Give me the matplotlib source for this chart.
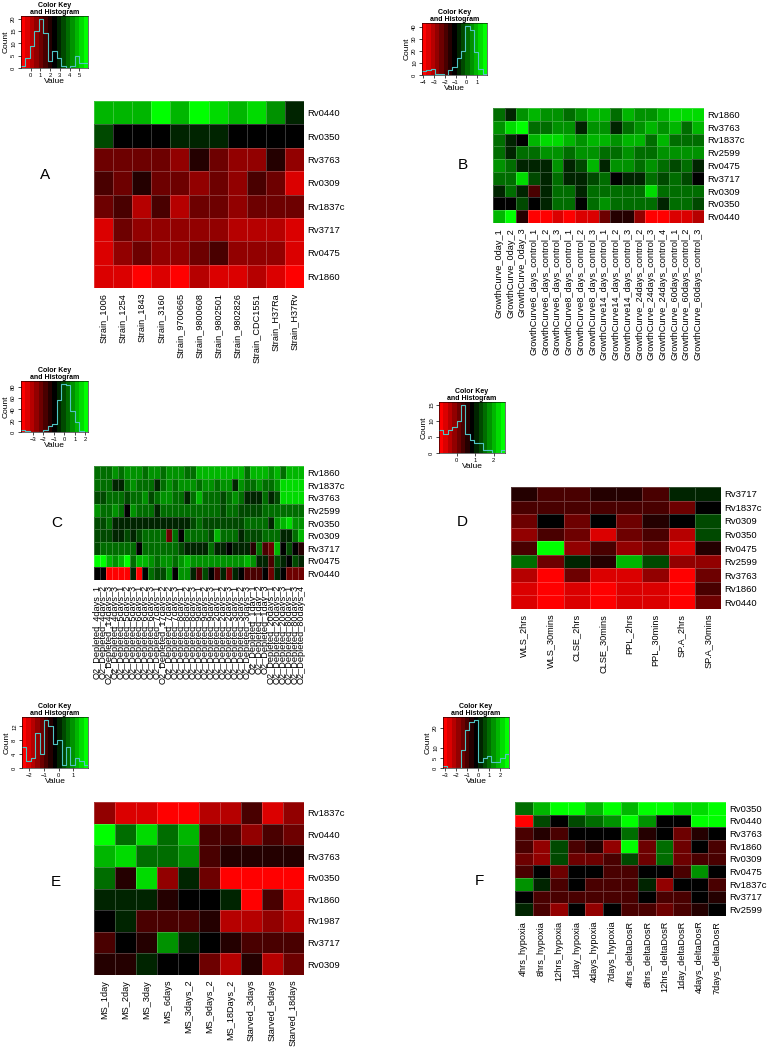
import numpy as np
import matplotlib
matplotlib.use("Agg")
import matplotlib.pyplot as plt
from matplotlib.colors import ListedColormap, BoundaryNorm

plt.rcParams['font.family'] = ['Liberation Sans', 'DejaVu Sans']

# ---------------- data ----------------
# panel A
a_rows = ["Rv0440", "Rv0350", "Rv3763", "Rv0309", "Rv1837c", "Rv3717", "Rv0475", "Rv1860"]
a_cols = ["Strain_1006", "Strain_1254", "Strain_1843", "Strain_3160", "Strain_9700665",
          "Strain_9800608", "Strain_9802501", "Strain_9802826", "Strain_CDC1551",
          "Strain_H37Ra", "Strain_H37Rv"]
a_vals = [
    [4.7, 4.7, 4.7, 5.8, 4.7, 5.8, 5.3, 4.7, 5.3, 4.2, 2.8],
    [3.5, 2.4, 2.4, 2.4, 3.0, 3.0, 3.0, 2.4, 2.4, 2.4, 2.4],
    [0.9, 0.9, 1.2, 1.2, 0.7, 1.9, 1.2, 0.4, 0.4, 1.9, 0.5],
    [1.4, 0.9, 2.1, 0.9, 1.2, 0.7, 1.2, 0.7, 1.4, 0.9, -0.1],
    [0.9, 1.4, 0.2, 1.4, 0.2, 1.2, 1.2, 0.7, 1.2, 1.2, 1.0],
    [-0.1, 0.9, 0.4, 0.7, 0.7, 0.7, 0.7, 0.2, 0.2, 0.2, -0.1],
    [-0.1, 0.4, 0.9, 0.4, 0.4, 0.9, 1.4, 0.7, 0.7, 0.4, -0.5],
    [-0.5, -0.1, -0.6, -0.3, -0.6, 0.2, -0.3, -0.3, 0.2, -0.1, -0.9],
]
a_range = (-1.0, 5.9)
a_hist = [1, 4, 9, 15, 20, 14, 3, 7, 4, 1, 0, 1, 5, 2, 2]
a_xticks = [0, 1, 2, 3, 4, 5]
a_yticks = [0, 5, 10, 15, 20]

# panel B
b_rows = ["Rv1860", "Rv3763", "Rv1837c", "Rv2599", "Rv0475", "Rv3717", "Rv0309", "Rv0350", "Rv0440"]
b_cols = ["GrowthCurve_0day_1", "GrowthCurve_0day_2", "GrowthCurve_0day_3",
          "GrowthCurve6_days_control_1", "GrowthCurve6_days_control_2", "GrowthCurve6_days_control_3",
          "GrowthCurve8_days_control_1", "GrowthCurve8_days_control_2", "GrowthCurve8_days_control_3",
          "GrowthCurve14_days_control_1", "GrowthCurve14_days_control_2", "GrowthCurve14_days_control_3",
          "GrowthCurve_24days_control_1", "GrowthCurve_24days_control_2", "GrowthCurve_24days_control_3",
          "GrowthCurve_24days_control_4", "GrowthCurve_60days_control_1", "GrowthCurve_60days_control_2",
          "GrowthCurve_60days_control_3"]
b_cols = b_cols[:12] + b_cols[13:]
b_vals = [
    [0.1, -0.5, 0.55, 1.0, 0.7, 0.7, 0.1, 0.55, 1.0, 0.85, 0.0, 0.85, 0.55, 0.55, 0.85, 1.45, 1.45, 1.45],
    [0.55, 1.15, 1.6, 0.1, 0.1, 0.55, 0.55, -0.8, 0.55, 0.55, -0.5, 0.1, 0.55, 1.0, 0.4, 1.0, 0.25, 1.0],
    [0.1, -0.65, -1.1, 1.0, 1.15, 1.45, 1.0, 0.55, 1.0, 1.0, 0.55, 1.0, 1.0, 0.25, 1.0, 0.1, 0.1, 0.25],
    [0.25, -0.8, 0.25, 0.25, 0.4, 0.4, 0.1, 0.55, 0.55, 0.1, 0.1, 0.55, 0.25, 0.25, 0.55, 0.7, 0.7, 0.55],
    [0.4, 0.25, -0.8, -0.8, -0.65, 0.4, -0.8, -0.2, 1.0, -0.65, 0.55, 0.55, 0.25, 0.55, 0.25, -0.2, 0.1, -0.5],
    [0.1, 0.25, 1.15, -0.35, -0.65, 0.25, -0.65, -0.5, -0.2, -0.05, -1.1, -0.8, -0.8, 0.25, -0.2, 0.1, -0.2, -1.1],
    [-0.8, 0.1, -0.65, -1.7, -0.65, 0.25, -0.05, -0.65, 0.25, 0.25, -0.05, 0.25, 0.25, 1.15, 0.25, 0.25, 0.25, 0.25],
    [-1.1, -1.1, -0.2, -1.1, -0.65, 0.25, 0.25, -1.1, -0.05, 0.7, 0.1, 0.1, 0.1, -0.05, -0.65, 0.25, 0.25, -0.2],
    [1.0, 1.6, -1.55, -3.8, -4.0, -3.35, -4.0, -3.65, -3.35, -2.45, -1.55, -1.55, -2.75, -4.0, -3.8, -3.5, -3.65, -3.2],
]
b_range = (-4.1, 1.9)
b_hist = [3, 4, 5, 1, 1, 0, 4, 7, 14, 20, 41, 37, 19, 5, 1]
b_xticks = [-4, -3, -2, -1, 0, 1]
b_yticks = [0, 10, 20, 30, 40]

# panel C
c_rows = ["Rv1860", "Rv1837c", "Rv3763", "Rv2599", "Rv0350", "Rv0309", "Rv3717", "Rv0475", "Rv0440"]
c_cols = ["O2_Depleted_4days_1", "O2_Depleted_4days_2", "O2_Depleted_14days_3", "O2_Depleted_4days_3",
          "O2_Depleted_5days_1", "O2_Depleted_5days_2", "O2_Depleted_5days_3", "O2_Depleted_6days_1",
          "O2_Depleted_6days_2", "O2_Depleted_6days_3", "O2_Depleted_7days_1", "O2_Depleted_17days_2",
          "O2_Depleted_7days_2", "O2_Depleted_7days_3", "O2_Depleted_8days_1", "O2_Depleted_8days_2",
          "O2_Depleted_8days_3", "O2_Depleted_9days_1", "O2_Depleted_9days_2", "O2_Depleted_9days_3",
          "O2_Depleted_2days_1", "O2_Depleted_2days_2", "O2_Depleted_2days_3", "O2_Depleted_3days_1",
          "O2_Depleted_3days_2", "O2_Depleted_3days_3", "O2_Depleted_1day_1", "O2_Depleted_1day_2",
          "O2_Depleted_1day_3", "O2_Depleted_20days_1", "O2_Depleted_20days_2", "O2_Depleted_20days_3",
          "O2_Depleted_80days_1", "O2_Depleted_80days_3", "O2_Depleted_80days_4"]
c_vals = [
    [0.2, 0.2, 0.5, 0.7, 0.5, 0.7, 0.7, 0.7, 0.2, 0.7, 0.7, 0.2, 0.7, 0.7, 0.7, 0.3, 0.5, 1.0, 1.0, 1.0,
     1.0, 1.0, 1.0, 1.0, 1.0, 0.5, 1.0, 1.0, 1.3, 0.7, 1.3, 0.5, 1.0, 1.0, 1.0],
    [0.2, 0.2, 0.3, -0.6, -0.6, 0.3, 0.7, 0.5, 0.5, 0.5, -0.3, 0.5, 0.7, 0.2, 0.7, 0.7, 0.7, 0.2, 0.7, 0.7,
     0.2, 0.7, 0.7, -0.3, 0.7, 0.3, 0.3, 0.7, 0.3, 0.3, 0.8, 1.5, 1.5, 1.5, 1.5],
    [0.0, 0.0, 0.2, 0.3, 0.3, 0.0, 0.5, 0.2, 0.7, -0.1, 0.3, 0.8, 0.7, 0.3, 0.3, -0.3, 0.5, 1.0, 0.5, 0.5,
     0.5, 0.0, 0.5, 0.7, 0.5, -0.5, -0.5, -0.5, 0.3, -0.6, 0.0, 1.5, 1.5, 1.5, 1.5],
    [0.8, 0.3, 0.5, 0.7, 0.5, -0.8, 0.7, 0.3, 0.3, 0.5, -0.3, 0.2, 0.2, 0.2, 0.2, 0.5, 0.5, 0.5, 0.5, 0.3,
     0.3, 0.0, 0.5, 0.5, 0.0, 0.0, 0.0, 0.0, 0.5, 0.5, 0.5, 0.5, 0.5, 0.5, 0.5],
    [0.0, 0.0, 0.2, -0.5, -0.5, -0.5, -0.5, -0.5, -0.5, -0.3, -0.3, -0.3, -0.3, -0.3, -0.3, -0.3, 0.0, 0.2, 0.0, 0.0,
     0.0, 0.0, -0.1, -0.1, -0.1, 0.2, 0.5, 0.2, 0.2, -0.5, 0.7, 1.0, 1.5, 0.8, 0.8],
    [0.0, 0.0, 0.0, -0.5, -0.5, 0.0, -0.5, 0.0, 0.5, 0.3, 0.3, 0.3, -2.4, 0.2, -0.9, 0.3, 0.3, 0.3, 0.5, -0.1,
     1.0, 0.3, 0.2, 0.3, -0.5, 0.0, 0.0, 0.0, 0.3, 0.5, 0.2, -0.5, -0.6, 0.2, 1.0],
    [0.0, 0.3, 0.2, 0.2, 0.2, 0.2, 0.2, -0.8, 0.5, 0.2, 0.3, 0.3, 0.3, 0.2, 0.0, -0.3, -0.3, -0.3, -0.6, 0.2,
     -0.3, -0.5, -0.8, -0.5, -0.5, -0.5, -1.4, 0.5, -1.9, -2.0, 1.3, -0.8, -0.1, -0.9, -1.4],
    [2.1, 2.1, 1.0, 0.8, 1.3, 1.9, 0.5, 1.0, 1.0, 0.7, 0.5, 0.7, 0.8, 0.5, 0.8, 1.0, 0.7, 0.7, 0.7, 0.7,
     0.7, 0.7, 0.7, 0.7, 0.7, 1.3, 0.8, -0.3, -0.5, -1.6, 0.0, -0.6, -0.8, 0.0, -0.5],
    [-0.9, -0.9, -4.1, -4.1, -4.1, -4.1, -0.5, -3.9, -0.9, 0.5, 0.0, 0.0, 0.8, -0.8, 0.7, 0.8, -0.6, -1.6, 0.0, -0.8,
     -1.9, -0.3, -2.4, -0.6, -0.8, -1.7, -1.7, -1.7, -0.8, -2.2, -0.6, -0.8, -2.4, -2.4, -2.2],
]
c_range = (-4.1, 2.25)
c_hist = [3, 1, 0, 0, 0, 4, 10, 14, 57, 86, 84, 37, 18, 1, 0]
c_xticks = [-3, -2, -1, 0, 1, 2]
c_yticks = [0, 20, 40, 60, 80]

# panel D
d_rows = ["Rv3717", "Rv1837c", "Rv0309", "Rv0350", "Rv0475", "Rv2599", "Rv3763", "Rv1860", "Rv0440"]
d_cols = ["WLS_2hrs", "WLS_30mins", "CLSE_2hrs", "CLSE_30mins", "PPL_2hrs", "PPL_30mins",
          "SP.A_2hrs", "SP.A_30mins"]
d_vals = [
    [0.56, 0.39, 0.39, 0.56, 0.56, 0.3, 1.1, 1.0],
    [0.39, 0.39, 0.39, 0.3, 0.3, 0.3, 0.2, 0.83],
    [0.03, 0.83, 0.03, 0.83, 0.03, 0.47, 0.8, 1.36],
    [-0.24, 0.3, 0.03, -0.68, 0.03, 0.3, -0.33, 1.36],
    [0.3, 2.6, -0.24, 0.3, -0.24, 0.03, -0.68, 0.56],
    [1.63, 0.03, 1.1, 0.56, 1.9, 1.28, -0.24, -0.24],
    [-0.33, -0.95, 0.03, -0.5, -0.5, -0.24, -0.77, 0.03],
    [-0.5, -0.95, -0.5, -0.95, -0.5, -0.5, -0.95, 0.3],
    [-0.68, -0.95, -0.5, -0.95, -0.68, -0.68, -0.95, 0.03],
]
d_range = (-0.95, 2.6)
d_hist = [7, 6, 7, 8, 10, 15, 6, 4, 3, 3, 1, 1, 0, 0, 1]
d_xticks = [0, 1, 2]
d_yticks = [0, 5, 10, 15]

# panel E
e_rows = ["Rv1837c", "Rv0440", "Rv3763", "Rv0350", "Rv1860", "Rv1987", "Rv3717", "Rv0309"]
e_cols = ["MS_1day", "MS_2day", "MS_3day", "MS_6days", "MS_3days_2", "MS_9days_2", "MS_18Days_2",
          "Starved_3days", "Starved_9days", "Starved_18days"]
e_vals = [
    [-1.47, -1.92, -2.14, -2.48, -2.48, -1.69, -1.69, -0.79, -1.92, -1.47],
    [2.0, 0.67, 1.57, 0.78, 1.35, -0.9, -0.9, -1.58, -0.9, -1.24],
    [1.12, 1.46, 0.78, 0.56, 0.9, -0.9, -0.57, -0.57, -0.57, -0.57],
    [0.67, -0.57, 1.57, -1.36, 0.11, -1.02, -2.25, -2.48, -2.48, -2.48],
    [0.11, 0.11, 0.11, -0.57, -0.23, -0.23, 0.11, -2.48, -0.9, -1.92],
    [-0.23, 0.11, -0.9, -0.9, -0.9, -0.57, -1.69, -1.69, -1.47, -1.69],
    [-0.9, -0.23, -0.57, 0.9, 0.11, -0.23, -0.57, -0.9, -0.9, -0.79],
    [-0.57, -0.57, 0.11, -0.23, -0.23, -1.02, -1.69, -0.57, -1.69, -1.24],
]
e_range = (-2.5, 2.0)
e_hist = [6, 2, 3, 10, 4, 14, 12, 7, 8, 1, 6, 1, 3, 2, 1]
e_xticks = [-2, -1, 0, 1]
e_yticks = [0, 4, 8, 12]

# panel F
f_rows = ["Rv0350", "Rv0440", "Rv3763", "Rv1860", "Rv0309", "Rv0475", "Rv1837c", "Rv3717", "Rv2599"]
f_cols = ["4hrs_hypoxia", "8hrs_hypoxia", "12hrs_hypoxia", "1day_hypoxia", "4days_hypoxia",
          "7days_hypoxia", "4hrs_deltaDosR", "8hrs_deltaDosR", "12hrs_deltaDosR", "1day_deltaDosR",
          "4days_deltaDosR", "7days_deltaDosR"]
f_vals = [
    [1.15, 1.9, 2.5, 2.5, 1.9, 2.65, 1.75, 2.65, 2.65, 2.2, 2.2, 2.65],
    [-3.2, 0.7, -0.2, 0.55, 1.0, 1.6, 2.75, 1.6, -0.2, -0.2, 2.75, 2.75],
    [-1.1, -0.65, -0.8, -0.2, -0.2, -0.2, 1.15, -0.65, -0.2, -1.25, -0.65, -0.2],
    [-1.1, -1.7, 0.7, -1.1, -0.65, -1.7, 2.65, -1.55, 1.15, -1.55, -0.2, -0.95],
    [-1.25, -1.7, 0.7, -1.25, -1.25, -0.8, 0.7, -1.25, 1.15, -1.55, -0.8, -0.8],
    [-0.8, -0.2, -1.25, -0.2, -0.2, -0.8, -1.1, -0.2, -0.2, -1.1, 1.6, -0.2],
    [1.3, 0.25, -1.1, -0.2, -0.8, -0.8, -1.1, 0.25, -1.7, -0.2, -0.2, -1.1],
    [-0.2, -0.8, -1.1, -0.8, -0.8, -0.8, -1.1, -0.2, -0.8, -0.8, -0.2, -0.65],
    [0.1, -0.8, -1.7, -0.2, -1.7, -0.2, -1.1, -0.8, -1.25, -0.8, -0.65, -0.2],
]
f_range = (-3.2, 2.8)
f_hist = [1, 0, 0, 0, 9, 19, 23, 24, 3, 5, 6, 3, 3, 5, 7]
f_xticks = [-3, -2, -1, 0, 1, 2]
f_yticks = [0, 5, 10, 20]


# ---------------- drawing ----------------
W, H = 770, 1050
fig = plt.figure(figsize=(W / 100, H / 100), dpi=100)


def px(x0, y0, x1, y1):
    return [x0 / W, 1 - y1 / H, (x1 - x0) / W, (y1 - y0) / H]


def redgreen(n=15):
    half = n // 2
    r = np.r_[np.linspace(1, 0, half + 1), np.zeros(half)]
    g = np.r_[np.zeros(half + 1), np.linspace(0, 1, half + 1)[1:]]
    cm = ListedColormap(np.c_[r, g, np.zeros(n)])
    cm.set_under((1, 0, 0))
    cm.set_over((0, 1, 0))
    return cm


CMAP = redgreen(15)
TRACE = '#4fc4c4'


def draw_key(box, rng, counts, xticks, yticks):
    ax = fig.add_axes(px(*box))
    lo, hi = rng
    edges = np.linspace(lo, hi, 16)
    norm = BoundaryNorm(edges, 15)
    ymax = max(counts) / 0.95
    mids = (edges[:-1] + edges[1:]) / 2
    ax.pcolormesh(edges, [0, ymax], mids.reshape(1, -1), cmap=CMAP, norm=norm)
    ax.step(edges, np.r_[counts, counts[-1]], where='post', color=TRACE, lw=0.8)
    ax.set_xlim(lo, hi)
    ax.set_ylim(0, ymax)
    ax.set_xticks(xticks)
    ax.set_yticks(yticks)
    ax.tick_params(labelsize=4.2, length=2, width=0.5, pad=1.5)
    for t in ax.get_yticklabels():
        t.set_rotation(90)
        t.set_va('center')
    for s in ax.spines.values():
        s.set_linewidth(0.4)
    ax.set_xlabel("Value", fontsize=6, labelpad=0)
    ax.set_ylabel("Count", fontsize=6, labelpad=1)
    ax.set_title("Color Key\nand Histogram", fontsize=5, fontweight='bold', pad=0,
                 linespacing=0.95)


def draw_heat(box, vals, rows, cols, rng, letter, lxy):
    ax = fig.add_axes(px(*box))
    lo, hi = rng
    norm = BoundaryNorm(np.linspace(lo, hi, 16), 15)
    data = np.array(vals)
    ax.pcolormesh(data, cmap=CMAP, norm=norm, edgecolors=(1, 1, 1, 0.22), linewidth=0.4)
    ax.set_xlim(0, data.shape[1])
    ax.set_ylim(data.shape[0], 0)
    ax.yaxis.tick_right()
    ax.set_yticks(np.arange(len(rows)) + 0.5)
    ax.set_yticklabels(rows, fontsize=6.8)
    ax.set_xticks(np.arange(len(cols)) + 0.5)
    ax.set_xticklabels(cols, fontsize=6.6, rotation=90)
    ax.tick_params(axis='y', length=0, pad=2.5)
    ax.tick_params(axis='x', length=0, pad=3.5)
    for s in ax.spines.values():
        s.set_visible(False)
    fig.text(lxy[0] / W, 1 - lxy[1] / H, letter, fontsize=11, ha='center', va='center')


draw_key((21, 16, 88, 68), a_range, a_hist, a_xticks, a_yticks)
draw_heat((94, 101, 304, 288), a_vals, a_rows, a_cols, a_range, "A", (45, 175))

draw_key((422, 23, 487, 75), b_range, b_hist, b_xticks, b_yticks)
draw_heat((493, 108, 704, 223), b_vals, b_rows, b_cols, b_range, "B", (463, 165))

draw_key((21, 381, 88, 432), c_range, c_hist, c_xticks, c_yticks)
draw_heat((94, 466, 304, 580), c_vals, c_rows, c_cols, c_range, "C", (57, 523))

draw_key((439, 402, 505, 453), d_range, d_hist, d_xticks, d_yticks)
draw_heat((511, 487, 721, 609), d_vals, d_rows, d_cols, d_range, "D", (462, 522))

draw_key((22, 717, 88, 768), e_range, e_hist, e_xticks, e_yticks)
draw_heat((94, 802, 304, 975), e_vals, e_rows, e_cols, e_range, "E", (56, 882))

draw_key((443, 717, 509, 768), f_range, f_hist, f_xticks, f_yticks)
draw_heat((515, 802, 726, 916), f_vals, f_rows, f_cols, f_range, "F", (479, 881))

fig.savefig("out.png", dpi=100)
